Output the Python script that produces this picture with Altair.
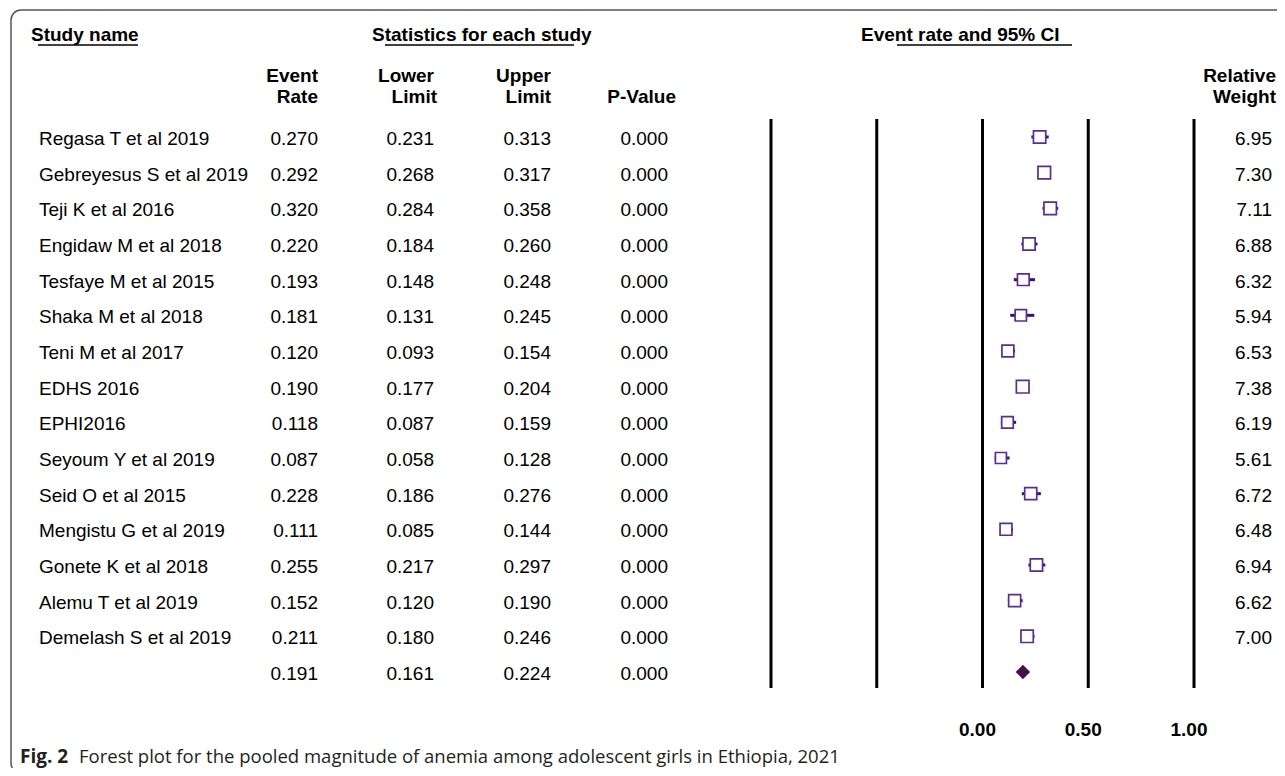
import altair as alt
import pandas as pd

# ---------------- data ----------------
studies = [
    "Regasa T et al 2019", "Gebreyesus S et al 2019", "Teji K et al 2016",
    "Engidaw M et al 2018", "Tesfaye M et al 2015", "Shaka M et al 2018",
    "Teni M et al 2017", "EDHS 2016", "EPHI2016", "Seyoum Y et al 2019",
    "Seid O et al 2015", "Mengistu G et al 2019", "Gonete K et al 2018",
    "Alemu T et al 2019", "Demelash S et al 2019",
]
event_rate = [0.270, 0.292, 0.320, 0.220, 0.193, 0.181, 0.120, 0.190, 0.118,
              0.087, 0.228, 0.111, 0.255, 0.152, 0.211]
lower_limit = [0.231, 0.268, 0.284, 0.184, 0.148, 0.131, 0.093, 0.177, 0.087,
               0.058, 0.186, 0.085, 0.217, 0.120, 0.180]
upper_limit = [0.313, 0.317, 0.358, 0.260, 0.248, 0.245, 0.154, 0.204, 0.159,
               0.128, 0.276, 0.144, 0.297, 0.190, 0.246]
p_value = [0.000] * 15
rel_weight = [6.95, 7.30, 7.11, 6.88, 6.32, 5.94, 6.53, 7.38, 6.19, 5.61,
              6.72, 6.48, 6.94, 6.62, 7.00]
pooled = {"er": 0.191, "lo": 0.161, "hi": 0.224, "p": 0.000}
ref_lines = [-1.0, -0.5, 0.0, 0.5, 1.0]
tick_labels = [0.0, 0.5, 1.0]

FONT = "Liberation Sans"
CAP_FONT = "Open Sans"
BOX_STROKE = "#5c2d91"
CI_COLOR = "#3f1070"
DIAMOND = "#4a0d4f"
M = 8  # page margin

n = len(studies)
df = pd.DataFrame({
    "row": list(range(n)),
    "study": studies,
    "er": event_rate,
    "lo": lower_limit,
    "hi": upper_limit,
    "p": p_value,
    "w": rel_weight,
})
pool_df = pd.DataFrame({"row": [n], "er": [pooled["er"]], "lo": [pooled["lo"]],
                        "hi": [pooled["hi"]], "p": [pooled["p"]]})
table = pd.concat([df, pool_df], ignore_index=True)

yscale = alt.Scale(domain=[0, n], range=[137 - M, 672 - M])
xscale = alt.Scale(domain=[-1, 1], range=[771 - M, 1194 - M])
Y = alt.Y("row:Q", scale=yscale, axis=None)


def txt(s, x, y, size=19, weight="normal", align="left", font=FONT, color="black"):
    return alt.Chart(pd.DataFrame({"t": [s]})).mark_text(
        align=align, baseline="middle", fontSize=size, fontWeight=weight,
        font=font, color=color
    ).encode(x=alt.value(x - M), y=alt.value(y - M), text="t:N")


def hline(x1, x2, y, width=1.5):
    return alt.Chart(pd.DataFrame({"a": [0]})).mark_rule(
        color="black", strokeWidth=width
    ).encode(x=alt.value(x1 - M), x2=alt.value(x2 - M), y=alt.value(y - M))


layers = []

# border
layers.append(
    alt.Chart(pd.DataFrame({"a": [0]})).mark_rect(
        fillOpacity=0, stroke="#555555", strokeWidth=1.5, cornerRadius=10
    ).encode(x=alt.value(11 - M), x2=alt.value(1320), y=alt.value(10 - M), y2=alt.value(773 - M))
)

# top headers
layers += [
    txt("Study name", 31, 35, weight="bold"),
    hline(38, 138, 45),
    txt("Statistics for each study", 372, 35, weight="bold"),
    hline(385, 574, 45),
    txt("Event rate and 95% CI", 861, 35, weight="bold"),
    hline(897, 1072, 45),
]

# column headers
for (l1, l2, xr) in [("Event", "Rate", 318), ("Lower", "Limit", 437),
                     ("Upper", "Limit", 551), ("Relative", "Weight", 1276)]:
    layers.append(txt(l1, xr if l1 != "Lower" else 434, 76, weight="bold", align="right"))
    layers.append(txt(l2, xr, 97, weight="bold", align="right"))
layers.append(txt("P-Value", 676, 97, weight="bold", align="right"))

# table columns
base = alt.Chart(table)
TDY = 2
layers.append(
    alt.Chart(df).mark_text(align="left", baseline="middle", fontSize=19, font=FONT, dy=TDY)
    .encode(x=alt.value(39 - M), y=Y, text="study:N")
)
for field, xr, fmt in [("er", 318, ".3f"), ("lo", 434, ".3f"), ("hi", 551, ".3f"), ("p", 668, ".3f")]:
    layers.append(
        base.mark_text(align="right", baseline="middle", fontSize=19, font=FONT, dy=TDY)
        .encode(x=alt.value(xr - M), y=Y, text=alt.Text(f"{field}:Q", format=fmt))
    )
layers.append(
    alt.Chart(df).mark_text(align="right", baseline="middle", fontSize=19, font=FONT, dy=TDY)
    .encode(x=alt.value(1272 - M), y=Y, text=alt.Text("w:Q", format=".2f"))
)

# reference vertical lines
layers.append(
    alt.Chart(pd.DataFrame({"v": ref_lines})).mark_rule(color="black", strokeWidth=3)
    .encode(x=alt.X("v:Q", scale=xscale, axis=None),
            y=alt.value(119 - M), y2=alt.value(688 - M))
)

# CI lines
layers.append(
    alt.Chart(df).mark_rule(color=CI_COLOR, strokeWidth=3)
    .encode(x=alt.X("lo:Q", scale=xscale, axis=None), x2="hi:Q", y=Y)
)
# boxes
layers.append(
    alt.Chart(df).mark_point(shape="square", filled=False, fill="white", fillOpacity=1,
                             stroke=BOX_STROKE, strokeWidth=1.7, opacity=1)
    .encode(x=alt.X("er:Q", scale=xscale, axis=None), y=Y,
            size=alt.Size("w:Q", scale=alt.Scale(domain=[0, 7.38], range=[0, 160]), legend=None))
)
# pooled diamond
layers.append(
    alt.Chart(pool_df).mark_point(shape="diamond", filled=True, color=DIAMOND, opacity=1, size=210)
    .encode(x=alt.X("er:Q", scale=xscale, axis=None), y=Y)
)

# x tick labels
layers.append(
    alt.Chart(pd.DataFrame({"t": tick_labels})).mark_text(
        align="center", baseline="middle", fontSize=19, fontWeight="bold", font=FONT, dx=-5)
    .encode(x=alt.X("t:Q", scale=xscale, axis=None), y=alt.value(730 - M),
            text=alt.Text("t:Q", format=".2f"))
)

# caption
layers.append(txt("Fig. 2", 20, 757, size=19, weight="bold", font=CAP_FONT, color="#231f20"))
layers.append(txt("Forest plot for the pooled magnitude of anemia among adolescent girls in Ethiopia, 2021",
                  79, 757, size=18.5, font=CAP_FONT, color="#231f20"))

chart = alt.layer(*layers).properties(
    width=1285 - 2 * M, height=776 - 2 * M, padding=0, autosize="none"
).configure_view(stroke=None)

chart.save("out.html", embed_options={"renderer": "svg", "actions": False})
